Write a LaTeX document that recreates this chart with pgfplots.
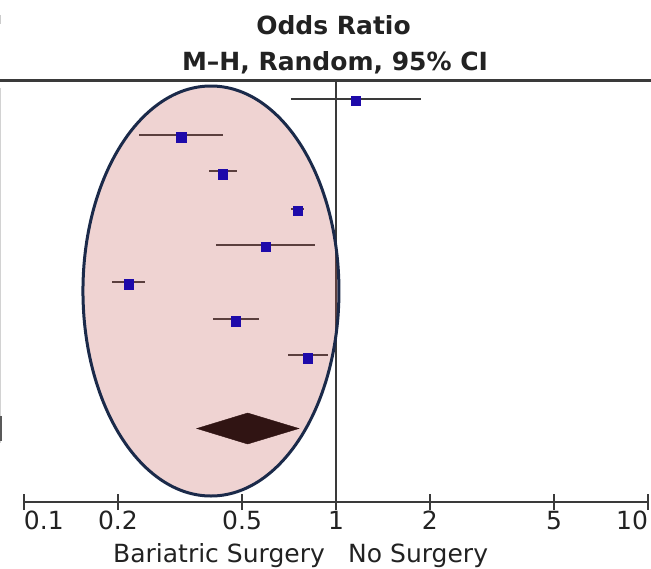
\documentclass[border=0pt]{standalone}
\usepackage{pgfplots}
\pgfplotsset{compat=1.18}
\usepackage{fontspec}
\setmainfont{DejaVu Sans}
\definecolor{txt}{HTML}{222222}
\definecolor{axc}{HTML}{3A3A3A}
\definecolor{mk}{RGB}{30,10,170}
\definecolor{ovl}{RGB}{192,80,77}
\definecolor{edge}{HTML}{1B2A4A}
\begin{document}
\begin{tikzpicture}[x=1pt,y=1pt]
\useasboundingbox (0,0) rectangle (651,-569);
\begin{axis}[
  at={(24pt,-502pt)}, anchor=south west,
  scale only axis, width=624pt, height=422pt,
  xmode=log, xmin=0.1, xmax=10,
  ymin=80, ymax=502, y dir=reverse,
  axis x line*=bottom, axis y line=none,
  axis line style={axc, line width=2.5pt},
  xtick={0.1,0.2,0.5,1,2,5,10},
  xticklabels={{\rlap{0.1}},{0.2},{0.5},{1},{2},{5},{\llap{10}}},
  minor xtick={},
  major tick length=16pt, tick align=center,
  tick style={axc, line width=2pt},
  xticklabel style={font=\fontsize{25}{30}\selectfont, text=txt, anchor=base, yshift=-19pt, inner sep=0pt},
  /pgf/number format/assume math mode=true,
  clip=false,
]
% line of no effect
\addplot[axc, line width=2pt] coordinates {(1,80) (1,502)};
% confidence intervals
\addplot[axc, line width=2.2pt] coordinates {(0.717,99) (1.873,99)};
\addplot[axc, line width=2.2pt] coordinates {(0.234,135) (0.435,135)};
\addplot[axc, line width=2.2pt] coordinates {(0.393,171.3) (0.482,171.3)};
\addplot[axc, line width=2.2pt] coordinates {(0.717,209) (0.790,209)};
\addplot[axc, line width=2.2pt] coordinates {(0.412,244.7) (0.856,244.7)};
\addplot[axc, line width=2.2pt] coordinates {(0.192,281.7) (0.244,281.7)};
\addplot[axc, line width=2.2pt] coordinates {(0.404,319) (0.568,319)};
\addplot[axc, line width=2.2pt] coordinates {(0.703,355.3) (0.941,355.3)};
% point estimates
\addplot[only marks, mark=square*, mark size=4.7pt, mk, mark options={draw=mk, fill=mk}] coordinates {
 (1.159,100.7) (0.319,137.3) (0.433,174.3) (0.754,210.7)
 (0.595,246.7) (0.217,284.3) (0.478,321.3) (0.812,358)};
% pooled diamond
\addplot[fill=black, draw=black] coordinates {(0.358,428.5) (0.521,413) (0.761,428.5) (0.521,444)} -- cycle;
% overlay ellipse
\fill[ovl, fill opacity=0.25] (axis cs:0.3975,291) ellipse [x radius=128pt, y radius=205pt];
\draw[edge, line width=3pt] (axis cs:0.3975,291) ellipse [x radius=128pt, y radius=205pt];
\end{axis}
% header rule
\draw[axc, line width=2.5pt] (0,-80.5) -- (651,-80.5);
% cut-off table edge
\draw[gray!35, line width=1.2pt] (0.6,-88) -- (0.6,-443);
\draw[gray!70!black, line width=1.5pt] (0.75,-416) -- (0.75,-441);
\draw[gray!40, line width=1.2pt] (0.6,-15) -- (0.6,-24);
% titles
\node[anchor=base, inner sep=0pt, text=txt, font=\fontsize{25}{30}\selectfont\bfseries] at (333.5,-35) {Odds Ratio};
\node[anchor=base, inner sep=0pt, text=txt, font=\fontsize{25}{30}\selectfont\bfseries] at (335,-71) {M--H, Random, 95\% CI};
% direction labels
\node[anchor=base east, inner sep=0pt, text=txt, font=\fontsize{25}{30}\selectfont] at (325,-562) {Bariatric Surgery};
\node[anchor=base west, inner sep=0pt, text=txt, font=\fontsize{25}{30}\selectfont] at (348,-562) {No Surgery};
\end{tikzpicture}
\end{document}
